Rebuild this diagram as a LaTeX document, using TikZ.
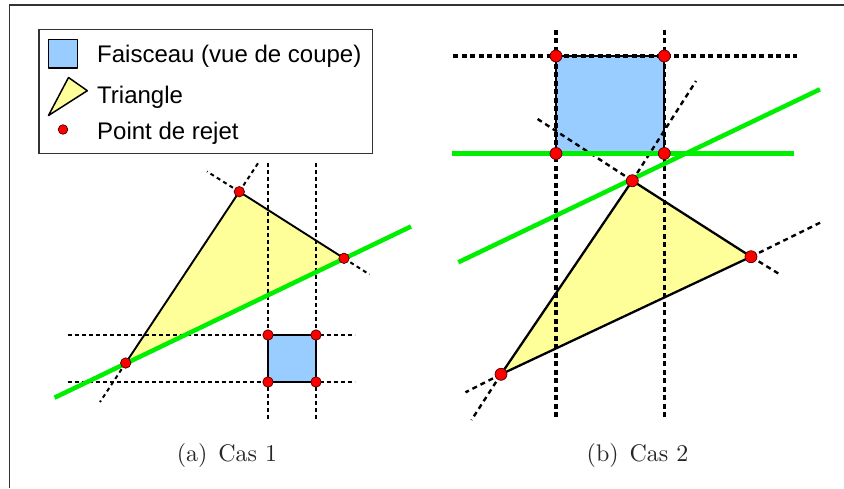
\documentclass[tikz,border=0pt]{standalone}
\usepackage{fontspec}
\newfontfamily\legfont{Liberation Sans}
\newfontfamily\capfont{lmroman10-regular}[Extension=.otf]
\definecolor{beamblue}{HTML}{99CCFF}
\definecolor{triyellow}{HTML}{FFFF99}
\definecolor{rejgreen}{HTML}{00EE00}
\definecolor{rejred}{HTML}{FF0000}
\tikzset{
  frameline/.style={draw=black!80, line width=1.5pt},
  beam/.style={fill=beamblue, draw=black, line width=1.8pt, line join=round},
  tri/.style={fill=triyellow, draw=black, line width=1.9pt, line join=round},
  guideA/.style={draw=black, line width=2pt, dash pattern=on 4pt off 3pt},
  guideB/.style={draw=black, line width=3.3pt, dash pattern=on 5pt off 3.5pt},
  extA/.style={draw=black, line width=2pt, dash pattern=on 4pt off 3.5pt},
  extB/.style={draw=black, line width=2.4pt, dash pattern=on 5pt off 4pt},
  plane/.style={draw=rejgreen, line width=4.5pt},
  rejdot/.style={fill=rejred, draw=black!70!red, line width=0.7pt},
  legtext/.style={inner sep=0pt, anchor=base west, font=\legfont\fontsize{24}{28}\selectfont},
  captext/.style={inner sep=0pt, anchor=base, text=black!85, font=\capfont\fontsize{24}{28}\selectfont}
}
\begin{document}
\begin{tikzpicture}[x=1pt,y=-1pt]
\useasboundingbox (0,0) rectangle (844,488);
% outer frame (left and top edges visible)
\draw[frameline] (9.5,488) -- (9.5,5) -- (844,5);

% ---------------- Legend ----------------
\draw[draw=black!80, line width=1.2pt] (39,29.5) rectangle (372.5,153.5);
\draw[beam, line width=1.5pt] (48.5,39.5) rectangle (77.5,68);
\node[legtext] (l1) at (97,62) {Faisceau (vue de coupe)};
\draw[tri, line width=1.5pt] (48.5,115.5) -- (68.5,77.5) -- (87.3,90.7) -- cycle;
\node[legtext] (l2) at (97,103) {Triangle};
\fill[rejdot] (63,129.5) circle (4.8pt);
\node[legtext] (l3) at (97,139.5) {Point de rejet};

% ---------------- Cas 1 ----------------
\coordinate (a1) at (239.3,191.7);
\coordinate (a2) at (344,258.3);
\coordinate (a3) at (125.7,363);
\coordinate (s1) at (268,335);
\coordinate (s2) at (316,335);
\coordinate (s3) at (316,382);
\coordinate (s4) at (268,382);
\draw[tri] (a1) -- (a2) -- (a3) -- cycle;
\draw[beam] (s1) -- (s2) -- (s3) -- (s4) -- cycle;
% guide lines
\draw[guideA] (268,162.5) -- (268,421);
\draw[guideA] (316,162.5) -- (316,421);
\draw[guideA] (67.5,335) -- (354.5,335);
\draw[guideA] (67.5,382) -- (354.5,382);
% edge extensions
\draw[extA] (a1) -- (207,171.5);
\draw[extA] (a1) -- (259.5,161);
\draw[extA] (a2) -- (369.5,274.5);
\draw[extA] (a3) -- (100,402);
% separating plane
\draw[plane] (54.5,397.7) -- (411,226.5);
% rejection points
\foreach \p in {a1,a2,a3,s1,s2,s3,s4} \fill[rejdot] (\p) circle (5.2pt);
\node[captext] (capA) at (227,461.7) {(a)\hskip0.45em Cas 1};

% ---------------- Cas 2 ----------------
\coordinate (b1) at (632.3,180.7);
\coordinate (b2) at (751,256.7);
\coordinate (b3) at (501,374.3);
\coordinate (t1) at (556,56);
\coordinate (t2) at (664.3,56);
\coordinate (t3) at (664.3,153.5);
\coordinate (t4) at (556,153.5);
\draw[tri, line width=2.3pt] (b1) -- (b2) -- (b3) -- cycle;
\draw[beam, line width=2.3pt] (t1) -- (t2) -- (t3) -- (t4) -- cycle;
% guide lines
\draw[guideB] (556,29.5) -- (556,418.5);
\draw[guideB] (664.3,29.5) -- (664.3,418.5);
\draw[guideB] (453,56) -- (797,56);
% edge extensions
\draw[extB] (b1) -- (535,117.3);
\draw[extB] (b1) -- (696,81);
\draw[extB] (b2) -- (780,274.5);
\draw[extB] (b2) -- (822.5,221.5);
\draw[extB] (b3) -- (465.5,392.3);
\draw[extB] (b3) -- (471.5,420);
% separating planes
\draw[plane] (452.3,153.7) -- (794,153.7);
\draw[plane] (458.3,262.3) -- (820,89.3);
% rejection points
\foreach \p in {b1,b2,b3,t1,t2,t3,t4} \fill[rejdot] (\p) circle (6pt);
\node[captext] (capB) at (637.5,461.7) {(b)\hskip0.45em Cas 2};
\end{tikzpicture}
\end{document}
